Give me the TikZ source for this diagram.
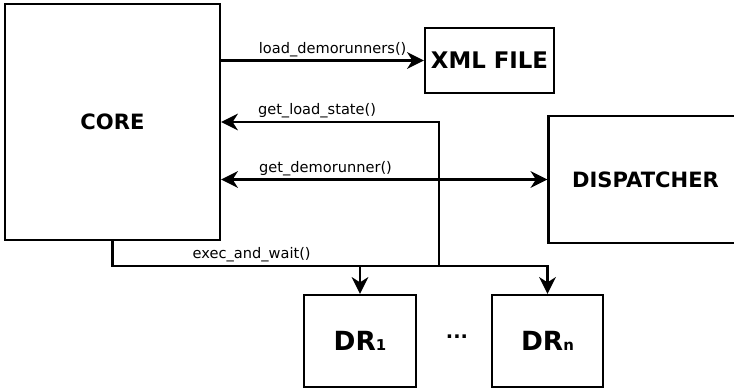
\documentclass[tikz,border=0pt]{standalone}
\usepackage{fontspec}
\setmainfont{DejaVu Sans}
\usetikzlibrary{arrows.meta}

\tikzset{
	block/.style={draw, line width=1.4pt, inner sep=0pt, font=\fontsize{12}{13}\selectfont\bfseries},
	runner/.style={block, minimum width=2.23cm, minimum height=1.84cm, font=\fontsize{15}{17}\selectfont\bfseries},
	call/.style={line width=1.3pt, -{Stealth[length=9.5pt, width=9.5pt, inset=3pt]}},
	both/.style={call, {Stealth[length=9.5pt, width=9.5pt, inset=3pt]}-{Stealth[length=9.5pt, width=9.5pt, inset=3pt]}},
	method/.style={font=\fontsize{8.3}{9}\selectfont, inner sep=1.5pt}
}
\newcommand{\idx}[1]{{\fontsize{8.5}{9}\selectfont #1}}

\begin{document}
\begin{tikzpicture}[x=0.02cm, y=-0.02cm]
	\useasboundingbox (0,0) rectangle (734,389);
	% blocks
	\node[block, minimum width=4.3cm, minimum height=4.72cm] (core) at (112.5,122) {CORE};
	\node[block, minimum width=2.58cm, minimum height=1.3cm, font=\fontsize{13}{14}\selectfont\bfseries] (xml) at (489.5,60.5) {XML FILE};
	\node[block, minimum width=3.88cm, minimum height=2.54cm] (disp) at (645.5,179.5) {DISPATCHER};
	\node[runner] (dr1) at (360,341) {DR\idx{1}};
	\node[runner] (drn) at (547.5,341) {DR\idx{n}};
	\node[font=\fontsize{11}{12}\selectfont\bfseries] (dots) at (457,337) {...};
	\coordinate (bus) at (0,266); % exec line
	\coordinate (lsbot) at (439,266);
	\coordinate (lstop) at (439,122);
	% calls
	\draw[call] (core.east |- xml.west) -- node[method, above, pos=0.55] {load\_demorunners()} (xml.west);
	\draw[call] (lsbot) -- (lstop) -- node[method, above, pos=0.56] {get\_load\_state()} (core.east |- lstop);
	\draw[both] (core.east |- disp.west) -- node[method, above, pos=0.32] {get\_demorunner()} (disp.west);
	\draw[call] (core.south) |- node[method, above, pos=0.66] {exec\_and\_wait()} (drn.north |- bus) -- (drn.north);
	\draw[call] (dr1.north |- bus) -- (dr1.north);
\end{tikzpicture}
\end{document}
